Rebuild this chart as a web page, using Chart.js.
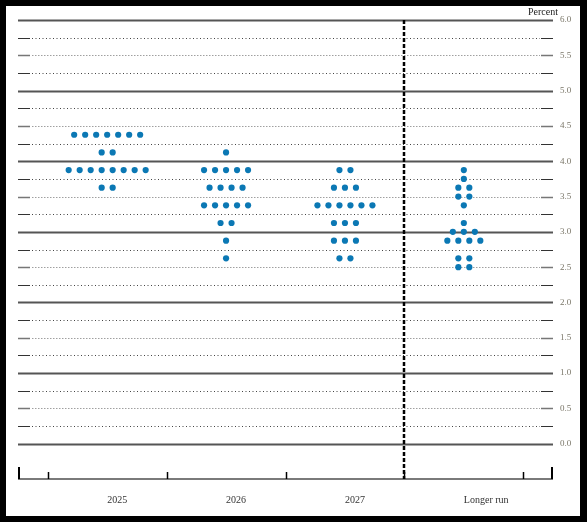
<!DOCTYPE html>
<html>
<head>
<meta charset="utf-8">
<script src="https://cdn.jsdelivr.net/npm/chart.js@4.4.1/dist/chart.umd.min.js"></script>
<style>
  html, body { margin: 0; padding: 0; background: #000; }
  #frame { position: absolute; left: 6px; top: 6px; width: 574px; height: 510px; background: #fff; }
</style>
</head>
<body>
<div id="frame"><canvas id="dotChart"></canvas></div>
<script>
// Категорії (роки) та прогнози учасників
const categories = ['2025', '2026', '2027', 'Longer run'];

const dots2025 = [4.375, 4.375, 4.375, 4.375, 4.375, 4.375, 4.375,
    4.125, 4.125,
    3.875, 3.875, 3.875, 3.875, 3.875, 3.875, 3.875, 3.875,
    3.625, 3.625];
const dots2026 = [4.125,
    3.875, 3.875, 3.875, 3.875, 3.875,
    3.625, 3.625, 3.625, 3.625,
    3.375, 3.375, 3.375, 3.375, 3.375,
    3.125, 3.125,
    2.875,
    2.625];
const dots2027 = [3.875, 3.875,
    3.625, 3.625, 3.625,
    3.375, 3.375, 3.375, 3.375, 3.375, 3.375,
    3.125, 3.125, 3.125,
    2.875, 2.875, 2.875,
    2.625, 2.625];
const dotsLonger = [3.875,
    3.75,
    3.625, 3.625,
    3.5, 3.5,
    3.375,
    3.125,
    3.0, 3.0, 3.0,
    2.875, 2.875, 2.875, 2.875,
    2.625, 2.625,
    2.5, 2.5];

const yTicks = [0, 0.5, 1, 1.5, 2, 2.5, 3, 3.5, 4, 4.5, 5, 5.5, 6];

const allDots = [dots2025, dots2026, dots2027, dotsLonger];
const dotStep = 0.0925; // крок між точками в одному рядку (в одиницях категорії)

// Розкладаємо точки в ряд навколо центру категорії
const points = [];
allDots.forEach((vals, i) => {
    const counts = {};
    vals.forEach(v => { counts[v] = (counts[v] || 0) + 1; });
    Object.keys(counts).forEach(key => {
        const n = counts[key];
        for (let k = 0; k < n; k++) {
            points.push({ x: i + (k - (n - 1) / 2) * dotStep, y: parseFloat(key) });
        }
    });
});

const serif = "'Liberation Serif', 'Times New Roman', serif";

// Сітка, вертикальна пунктирна лінія, вісь X
const decorPlugin = {
    id: 'decor',
    beforeDatasetsDraw(chart) {
        const ctx = chart.ctx;
        const area = chart.chartArea;
        const xs = chart.scales.x;
        const ys = chart.scales.y;
        const endLen = 12;
        ctx.save();
        for (let v = 0; v <= 6.001; v += 0.25) {
            const y = Math.round(ys.getPixelForValue(v)) + 0.5;
            const frac = Math.round((v % 1) * 100);
            if (frac === 0) {
                ctx.setLineDash([]);
                ctx.strokeStyle = '#555';
                ctx.lineWidth = 2;
                ctx.beginPath();
                ctx.moveTo(area.left, y);
                ctx.lineTo(area.right, y);
                ctx.stroke();
                continue;
            }
            const half = frac === 50;
            // суцільні кінці
            ctx.setLineDash([]);
            ctx.strokeStyle = half ? '#777' : '#333';
            ctx.lineWidth = half ? 1.6 : 1.2;
            ctx.beginPath();
            ctx.moveTo(area.left, y);
            ctx.lineTo(area.left + endLen, y);
            ctx.moveTo(area.right - endLen, y);
            ctx.lineTo(area.right, y);
            ctx.stroke();
            // пунктир між ними
            ctx.setLineDash(half ? [1.5, 1.5] : [1, 2.5]);
            ctx.strokeStyle = half ? '#a0a0a0' : '#444';
            ctx.lineWidth = 1;
            ctx.beginPath();
            ctx.moveTo(area.left + endLen + 2, y);
            ctx.lineTo(area.right - endLen - 1, y);
            ctx.stroke();
        }

        // вісь X
        ctx.setLineDash([]);
        ctx.strokeStyle = '#7a7a7a';
        ctx.lineWidth = 2;
        ctx.beginPath();
        ctx.moveTo(area.left, area.bottom);
        ctx.lineTo(area.right, area.bottom);
        ctx.stroke();
        ctx.strokeStyle = '#000';
        ctx.lineWidth = 1.5;
        [-0.5, 0.5, 1.5, 2.5, 3.5].forEach(t => {
            const x = Math.round(xs.getPixelForValue(t)) + 0.5;
            ctx.beginPath();
            ctx.moveTo(x, area.bottom);
            ctx.lineTo(x, area.bottom - 7);
            ctx.stroke();
        });
        ctx.lineWidth = 2;
        [xs.min, xs.max].forEach(t => {
            const x = Math.round(xs.getPixelForValue(t)) + (t === xs.min ? 1 : -1);
            ctx.beginPath();
            ctx.moveTo(x, area.bottom);
            ctx.lineTo(x, area.bottom - 12);
            ctx.stroke();
        });

        // вертикальна пунктирна лінія перед "Longer run"
        const vx = Math.round(xs.getPixelForValue(2.5));
        ctx.setLineDash([4, 2]);
        ctx.lineWidth = 2.5;
        ctx.strokeStyle = '#000';
        ctx.beginPath();
        ctx.moveTo(vx, area.top);
        ctx.lineTo(vx, area.bottom);
        ctx.stroke();

        // підпис "Percent"
        ctx.setLineDash([]);
        ctx.fillStyle = '#222';
        ctx.font = '10px ' + serif;
        ctx.textAlign = 'right';
        ctx.textBaseline = 'middle';
        ctx.fillText('Percent', area.right + 5, 6);
        ctx.restore();
    }
};

new Chart(document.getElementById('dotChart'), {
    type: 'scatter',
    data: {
        datasets: [{
            data: points,
            backgroundColor: '#0b78b4',
            borderColor: '#0b78b4',
            borderWidth: 0,
            pointRadius: 3.1,
            pointHoverRadius: 3.1
        }]
    },
    options: {
        responsive: true,
        maintainAspectRatio: false,
        animation: false,
        layout: { padding: { left: 12, top: 14, right: 0, bottom: 0 } },
        plugins: {
            legend: { display: false },
            tooltip: { enabled: false }
        },
        scales: {
            x: {
                type: 'linear',
                min: -0.75,
                max: 3.75,
                grid: { display: false, drawTicks: false },
                border: { display: false },
                afterBuildTicks: s => { s.ticks = categories.map((c, i) => ({ value: i })); },
                afterFit: s => { s.height = 37; },
                ticks: {
                    autoSkip: false,
                    maxRotation: 0,
                    align: 'start',
                    padding: 15,
                    color: '#333',
                    font: { family: serif, size: 10 },
                    callback: v => categories[v]
                }
            },
            y: {
                position: 'right',
                min: -0.5,
                max: 6,
                grid: { display: false, drawTicks: false },
                border: { display: false },
                afterBuildTicks: s => { s.ticks = yTicks.map(v => ({ value: v })); },
                afterFit: s => { s.width = 27; },
                ticks: {
                    padding: 7,
                    color: '#7a7668',
                    font: { family: serif, size: 9 },
                    callback: v => v.toFixed(1)
                }
            }
        }
    },
    plugins: [decorPlugin]
});
</script>
</body>
</html>
